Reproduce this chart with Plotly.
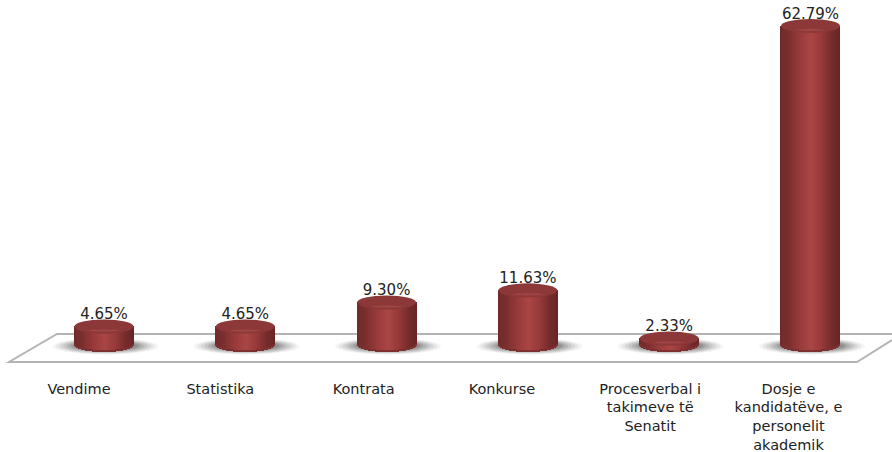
import math
import plotly.graph_objects as go

categories = ["Vendime", "Statistika", "Kontrata", "Konkurse",
              "Procesverbal i<br>takimeve të<br>Senatit",
              "Dosje e<br>kandidatëve, e<br>personelit<br>akademik"]
values = [4.65, 4.65, 9.30, 11.63, 2.33, 62.79]
value_labels = ["4.65%", "4.65%", "9.30%", "11.63%", "2.33%", "62.79%"]
label_shift_px = [-25, -25, -23, -26, -19, -22]

W, H = 892, 452
PLOT_BOTTOM = 378
STEP = 141.3          # px per category
X0 = 104              # px of first category
PXV = 5.17            # px per percent
ZERO = 350.5          # px of value 0
BASE_V = 1.06         # cylinder base centre
HALF_W = 29.5 / STEP  # cylinder half width, category units
ELL = 7.0 / PXV       # ellipse half height, value units
N = 59

xr = [-X0 / STEP, (W - X0) / STEP]
yr = [(ZERO - PLOT_BOTTOM) / PXV, ZERO / PXV]


def shade(t):
    stops = [(-1.0, (112, 42, 42)), (-0.72, (122, 46, 46)), (-0.35, (150, 58, 58)),
             (0.05, (170, 70, 68)), (0.4, (150, 58, 57)), (0.75, (118, 44, 44)),
             (1.0, (104, 38, 40))]
    for (a, ca), (b, cb) in zip(stops, stops[1:]):
        if t <= b:
            f = (t - a) / (b - a)
            return "rgb(%d,%d,%d)" % tuple(round(p + (q - p) * f) for p, q in zip(ca, cb))
    return "rgb(104,38,40)"


sx, sb, sh, sc, rim_b = [], [], [], [], []
for i, v in enumerate(values):
    for k in range(N):
        t = (k + 0.5) / N * 2 - 1
        bottom = BASE_V - ELL * math.sqrt(1 - t * t)
        sx.append(i + t * HALF_W)
        sb.append(bottom)
        sh.append(v - bottom)
        sc.append(shade(t))
        rim_b.append(bottom)

strip_w = 2 * HALF_W / N * 1.15
fig = go.Figure()
fig.add_trace(go.Bar(x=sx, y=sh, base=sb, width=strip_w,
                     marker=dict(color=sc, line=dict(width=0)),
                     hoverinfo="skip", showlegend=False))
# darker rim along the curved foot of each cylinder
fig.add_trace(go.Bar(x=sx, y=[2.0 / PXV] * len(sx), base=rim_b, width=strip_w,
                     marker=dict(color="#7e3030", line=dict(width=0)),
                     hoverinfo="skip", showlegend=False))

shapes = []


def px(x):
    return x / W


def py(y):
    return (PLOT_BOTTOM - y) / PLOT_BOTTOM


floor = (f"M {px(892)} {py(340)} L {px(857)} {py(362)} L {px(9)} {py(362)} "
         f"L {px(57)} {py(334)} L {px(892)} {py(334)}")
shapes.append(dict(type="path", xref="paper", yref="paper", path=floor,
                   line=dict(color="#b4b4b4", width=2), layer="below"))

# soft floor shadows
for i in range(len(values)):
    for r, a in [(1.8, 0.05), (1.68, 0.07), (1.56, 0.09), (1.44, 0.11),
                 (1.32, 0.13), (1.2, 0.15), (1.1, 0.17)]:
        shapes.append(dict(type="circle", xref="x", yref="y", layer="below",
                           x0=i + 0.01 - HALF_W * r, x1=i + 0.01 + HALF_W * r,
                           y0=BASE_V - ELL * 0.75 * r, y1=BASE_V + ELL * 0.55 * r,
                           fillcolor=f"rgba(60,60,60,{a})", line=dict(width=0)))

# cylinder tops: dark cap with a faint lighter crescent low in the middle
for i, v in enumerate(values):
    shapes.append(dict(type="circle", xref="x", yref="y", layer="above",
                       x0=i - HALF_W, x1=i + HALF_W, y0=v - ELL, y1=v + ELL,
                       fillcolor="#8c3838", line=dict(width=0)))
    shapes.append(dict(type="circle", xref="x", yref="y", layer="above",
                       x0=i - HALF_W * 0.5, x1=i + HALF_W * 0.5,
                       y0=v - ELL * 0.72, y1=v - ELL * 0.42,
                       fillcolor="#a04644", line=dict(width=0)))

fig.add_trace(go.Scatter(x=list(range(len(values))),
                         y=[v + ELL - 3.5 / PXV for v in values],
                         mode="text", text=value_labels, textposition="top center",
                         textfont=dict(family="DejaVu Sans", size=15, color="#222222"),
                         cliponaxis=False, hoverinfo="skip", showlegend=False))

fig.update_layout(
    width=W, height=H, autosize=False, barmode="overlay", bargap=0,
    margin=dict(l=0, r=0, t=0, b=H - PLOT_BOTTOM, pad=0, autoexpand=False),
    paper_bgcolor="white", plot_bgcolor="rgba(0,0,0,0)", shapes=shapes,
    font=dict(family="DejaVu Sans", size=14.5, color="#222222"),
    xaxis=dict(range=xr, tickmode="array", automargin=False,
               tickvals=[i + s / STEP for i, s in enumerate(label_shift_px)],
               ticktext=categories, showgrid=False, zeroline=False, showline=False,
               ticks="", tickangle=0, tickfont=dict(size=14.5)),
    yaxis=dict(range=yr, visible=False, showgrid=False, zeroline=False, automargin=False),
)
fig.write_html(
    "out.html",
    config={"displayModeBar": False},
    post_script=("document.body.style.margin='0';"
                 "document.documentElement.style.overflow='hidden';"
                 "document.body.style.overflow='hidden';"
                 "document.body.style.height='452px';window.scrollTo(0,0);"),
)
